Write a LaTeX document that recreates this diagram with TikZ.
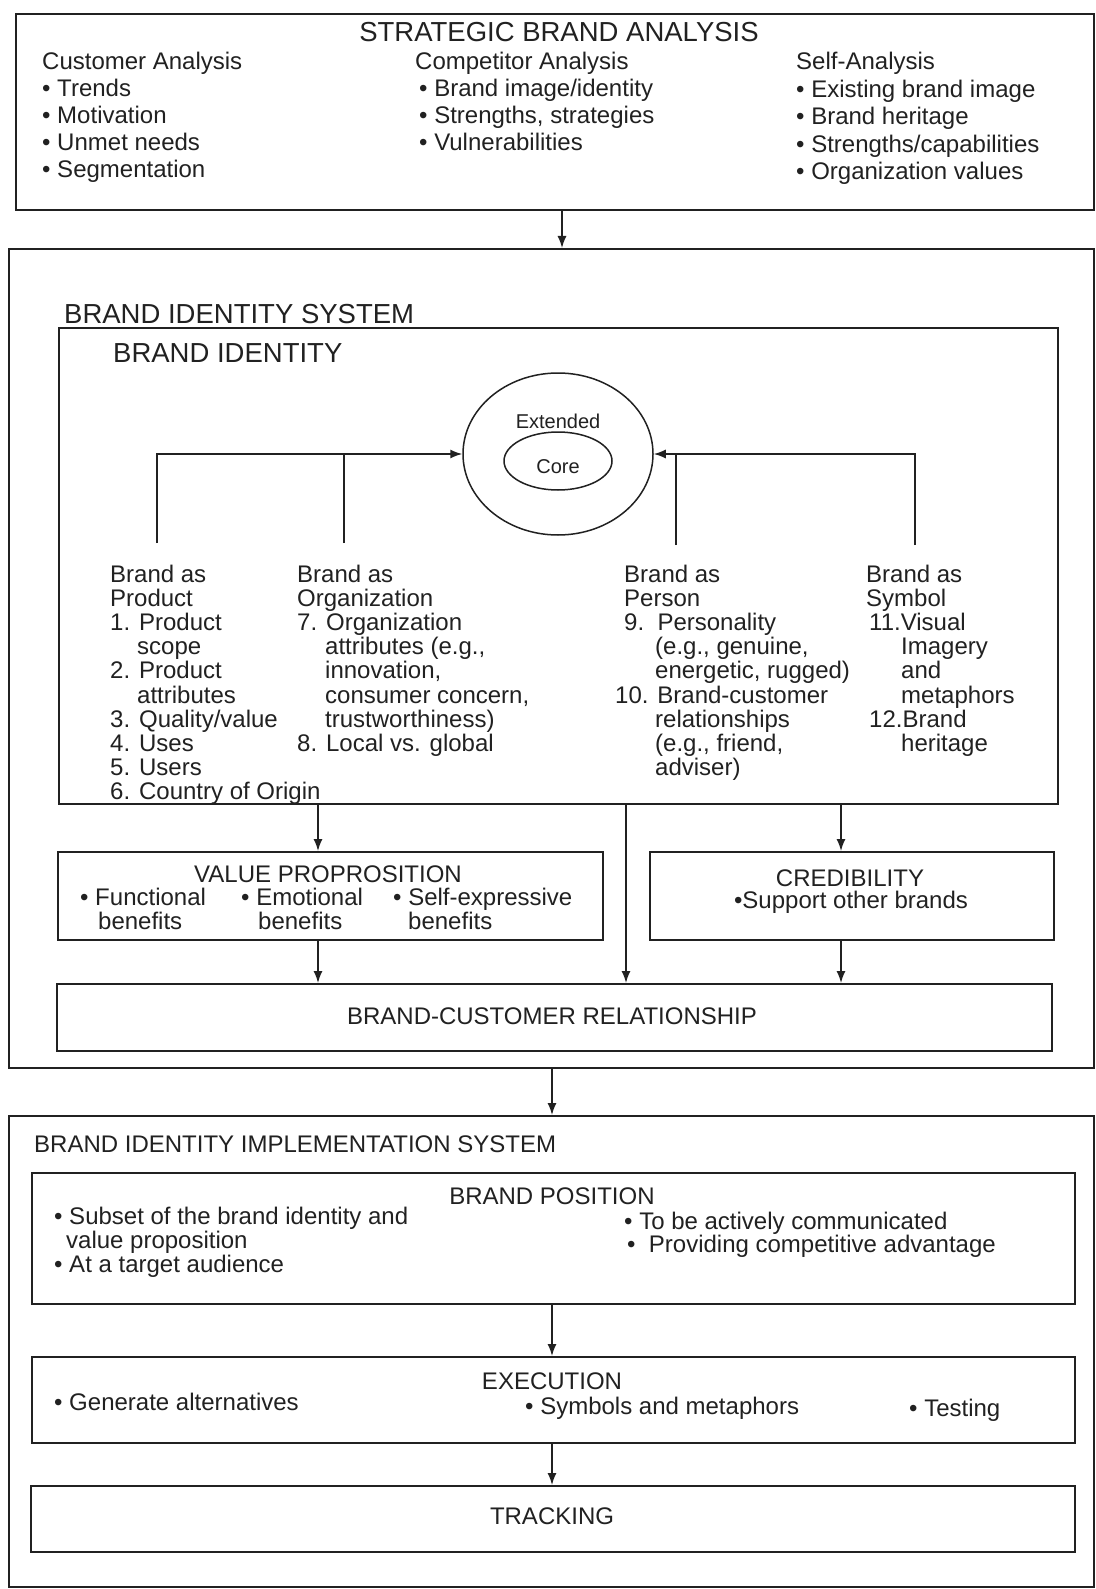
\documentclass[tikz,border=0pt]{standalone}
\usepackage{fontspec}
\setmainfont{Liberation Sans}
\usetikzlibrary{arrows.meta,shapes.geometric}

\definecolor{ink}{gray}{0.13}
\newcommand\fbody{\fontsize{24}{24}\selectfont}
\newcommand\fhead{\fontsize{27.5}{27.5}\selectfont}
\newcommand\fsmall{\fontsize{20}{20}\selectfont}
\newcommand\bul{\textbullet\ }

% rows of left-aligned text: #1 name prefix, #2 first baseline, #3 line step, #4 list of x/{text}
\newcommand\txtrows[4]{%
  \foreach \xx/\ttx [count=\i from 0] in {#4} {%
    \node[txt] (#1\i) at (\xx, #2+\i*#3) {\ttx};}}

\begin{document}
\begin{tikzpicture}[x=1pt,y=-1pt,
  frame/.style={draw=ink, line width=1.8pt, anchor=north west, inner sep=0pt},
  txt/.style={anchor=base west, inner sep=0pt, font=\fbody, text=ink},
  ctxt/.style={anchor=base, inner sep=0pt, font=\fbody, text=ink},
  htxt/.style={anchor=base west, inner sep=0pt, font=\fhead, text=ink},
  conn/.style={draw=ink, line width=1.5pt},
  arr/.style={conn, -{Latex[length=12pt,width=9pt]}},
  ring/.style={draw=ink, line width=1.5pt, ellipse, inner sep=0pt}]

\fill[white] (0,0) rectangle (1095,1589);
\useasboundingbox (0,0) rectangle (1095,1589);

% x positions of the vertical connectors
\coordinate (xt) at (562,0);
\coordinate (xm) at (552,0);
\coordinate (xa) at (318,0);
\coordinate (xb) at (626,0);
\coordinate (xc) at (841,0);

% ---------- Strategic brand analysis ----------
\node[frame, minimum width=1078pt, minimum height=196pt] (top) at (15,13) {};
\node[anchor=base, inner sep=0pt, font=\fhead, text=ink] (sbatitle) at (559,42) {STRATEGIC BRAND ANALYSIS};
\txtrows{ca}{70}{27}{42/{Customer Analysis}, 42/{\bul Trends}, 42/{\bul Motivation}, 42/{\bul Unmet needs}, 42/{\bul Segmentation}}
\txtrows{co}{70}{27}{415/{Competitor Analysis}, 419/{\bul Brand image/identity}, 419/{\bul Strengths, strategies}, 419/{\bul Vulnerabilities}}
\txtrows{se}{70}{27.5}{796/{Self-Analysis}, 796/{\bul Existing brand image}, 796/{\bul Brand heritage}, 796/{\bul Strengths/capabilities}, 796/{\bul Organization values}}

% ---------- Brand identity system ----------
\node[frame, minimum width=1085pt, minimum height=819pt] (sys) at (8,248) {};
\node[htxt] (sysl) at (64,323) {BRAND IDENTITY SYSTEM};
\node[frame, minimum width=999pt, minimum height=476pt] (bibox) at (58,327) {};
\node[htxt] (bil) at (113,362) {BRAND IDENTITY};

\node[ring, minimum width=190pt, minimum height=162pt] (ext) at (558,454) {};
\node[ring, minimum width=108pt, minimum height=58pt] (core) at (558,461) {};
\node[anchor=base, inner sep=0pt, font=\fsmall, text=ink] (extl) at (558,428) {Extended};
\node[anchor=base, inner sep=0pt, font=\fsmall, text=ink] (corel) at (558,473) {Core};

\coordinate (bp) at (157,543);
\coordinate (bo) at (344,543);
\coordinate (bpe) at (676,545);
\coordinate (bs) at (915,545);
\draw[arr] (bp) |- (ext.west);
\draw[conn] (bo) -- (bo |- ext.west);
\draw[arr] (bs) |- (ext.east);
\draw[conn] (bpe) -- (bpe |- ext.east);

\txtrows{pr}{582}{24.2}{110/{Brand as}, 110/{Product}, 110/{1. Product}, 137/{scope}, 110/{2. Product}, 137/{attributes}, 110/{3. Quality/value}, 110/{4. Uses}, 110/{5. Users}, 110/{6. Country of Origin}}
\txtrows{or}{582}{24.2}{297/{Brand as}, 297/{Organization}, 297/{7. Organization}, 325/{attributes (e.g.,}, 325/{innovation,}, 325/{consumer concern,}, 325/{trustworthiness)}, 297/{8. Local vs. global}}
\txtrows{pe}{582}{24.2}{624/{Brand as}, 624/{Person}, 624/{9.\ \ Personality}, 655/{(e.g., genuine,}, 655/{energetic, rugged)}, 615/{10. Brand-customer}, 655/{relationships}, 655/{(e.g., friend,}, 655/{adviser)}}
\txtrows{sy}{582}{24.2}{866/{Brand as}, 866/{Symbol}, 869/{11.Visual}, 901/{Imagery}, 901/{and}, 901/{metaphors}, 869/{12.Brand}, 901/{heritage}}

% value proposition and credibility
\node[frame, minimum width=545pt, minimum height=88pt] (vp) at (57,851) {};
\node[ctxt] (vpl) at (328,882) {VALUE PROPROSITION};
\node[txt] (vp1) at (80,905) {\bul Functional};
\node[txt] (vp1b) at (98,929) {benefits};
\node[txt] (vp2) at (241,905) {\bul Emotional};
\node[txt] (vp2b) at (258,929) {benefits};
\node[txt] (vp3) at (393,905) {\bul Self-expressive};
\node[txt] (vp3b) at (408,929) {benefits};

\node[frame, minimum width=404pt, minimum height=88pt] (cred) at (649,851) {};
\node[ctxt] (credl) at (850,886) {CREDIBILITY};
\node[ctxt] (cred1) at (851,908) {\textbullet Support other brands};

\node[frame, minimum width=995pt, minimum height=67pt] (bcr) at (56,983) {};
\node[ctxt] (bcrl) at (552,1024) {BRAND-CUSTOMER RELATIONSHIP};

\draw[arr] (bibox.south -| xa) -- (vp.north -| xa);
\draw[arr] (vp.south -| xa) -- (bcr.north -| xa);
\draw[arr] (bibox.south -| xb) -- (bcr.north -| xb);
\draw[arr] (bibox.south -| xc) -- (cred.north -| xc);
\draw[arr] (cred.south -| xc) -- (bcr.north -| xc);

% ---------- Implementation system ----------
\node[frame, minimum width=1085pt, minimum height=471pt] (impl) at (8,1115) {};
\node[txt] (impll) at (34,1152) {BRAND IDENTITY IMPLEMENTATION SYSTEM};

\node[frame, minimum width=1043pt, minimum height=131pt] (pos) at (31,1172) {};
\node[ctxt] (posl) at (552,1204) {BRAND POSITION};
\node[txt] (pos1) at (54,1224) {\bul Subset of the brand identity and};
\node[txt] (pos1b) at (66,1248) {value proposition};
\node[txt] (pos2) at (54,1272) {\bul At a target audience};
\node[txt] (pos3) at (624,1229) {\bul To be actively communicated};
\node[txt] (pos4) at (627,1252) {\textbullet\ \ Providing competitive advantage};

\node[frame, minimum width=1043pt, minimum height=86pt] (exec) at (31,1356) {};
\node[ctxt] (execl) at (552,1389) {EXECUTION};
\node[txt] (ex1) at (54,1410) {\bul Generate alternatives};
\node[txt] (ex2) at (525,1414) {\bul Symbols and metaphors};
\node[txt] (ex3) at (909,1416) {\bul Testing};

\node[frame, minimum width=1044pt, minimum height=66pt] (track) at (30,1485) {};
\node[ctxt] (trackl) at (552,1524) {TRACKING};

% flow between the main sections
\draw[arr] (top.south -| xt) -- (sys.north -| xt);
\draw[arr] (sys.south -| xm) -- (impl.north -| xm);
\draw[arr] (pos.south -| xm) -- (exec.north -| xm);
\draw[arr] (exec.south -| xm) -- (track.north -| xm);

\end{tikzpicture}
\end{document}
